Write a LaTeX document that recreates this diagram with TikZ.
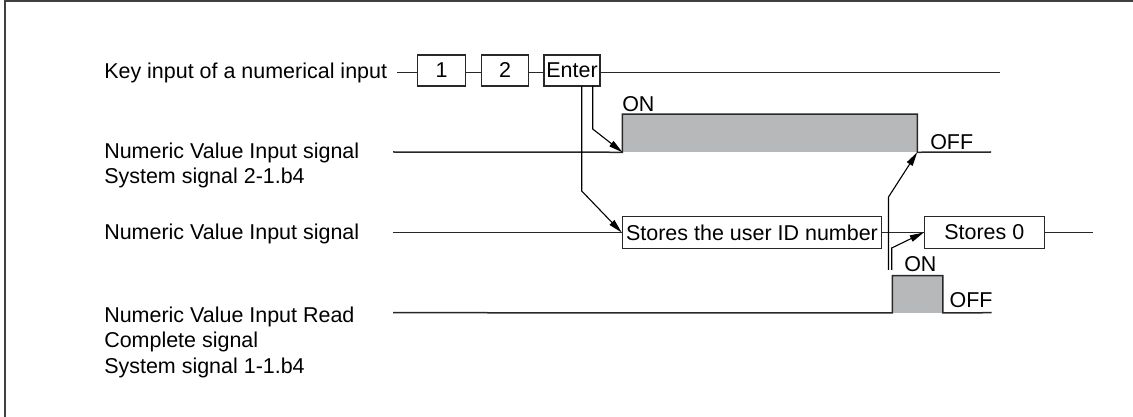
\documentclass[tikz,border=0pt]{standalone}
\usepackage{fontspec}
\setmainfont{Liberation Sans}
\usetikzlibrary{arrows.meta}
\newdimen\pxu \pxu=0.75pt
\definecolor{pulsegray}{RGB}{183,184,186}
\definecolor{linegray}{RGB}{40,40,40}
\tikzset{
  lbl/.style={anchor=base west, inner sep=0pt, font=\fontsize{16.1}{19}\selectfont},
  keybox/.style={draw=linegray, line width=1.2\pxu, inner sep=0pt, minimum height=31\pxu, font=\fontsize{16.1}{19}\selectfont},
  sig/.style={draw=linegray, line width=1.5\pxu},
  pulse/.style={fill=pulsegray, inner sep=0pt, draw=none},
  arr/.style={draw=black, line width=1.1\pxu, -{Triangle[length=10.5pt,width=5pt]}},
  frame/.style={draw=black!75, line width=2\pxu}
}
\begin{document}
\begin{tikzpicture}[x=0.75pt,y=-0.75pt]
\useasboundingbox (0,0) rectangle (1133,417);
% frame
\coordinate (fr1) at (1133,1);
\coordinate (fr2) at (5,1);
\coordinate (fr3) at (5,417);
\draw[frame] (fr1) -- (fr2) -- (fr3);

% labels
\node[lbl] (l1) at (104,79) {Key input of a numerical input};
\node[lbl] (l2a) at (104,159) {Numeric Value Input signal};
\node[lbl] (l2b) at (104,184) {System signal 2-1.b4};
\node[lbl] (l3) at (104,240) {Numeric Value Input signal};
\node[lbl] (l4a) at (104,322.5) {Numeric Value Input Read};
\node[lbl] (l4b) at (104,348) {Complete signal};
\node[lbl] (l4c) at (104,373.5) {System signal 1-1.b4};

% row 1 : key input
\node[keybox, minimum width=48.5\pxu] (k1) at (441.5,70.5) {1};
\node[keybox, minimum width=46.5\pxu] (k2) at (505,70.5) {2};
\node[keybox, minimum width=56\pxu] (ke) at (572,70.5) {Enter};
\coordinate (r1s) at (397,72.3);
\coordinate (r1e) at (1000,72.3);
\draw[sig] (r1s) -- (r1s -| k1.west);
\draw[sig] (k1.east |- r1s) -- (k2.west |- r1s);
\draw[sig] (k2.east |- r1s) -- (ke.west |- r1s);
\draw[sig] (ke.east |- r1s) -- (r1e);

% row 2 : numeric value input signal (bit)
\node[pulse, minimum width=294.3\pxu, minimum height=37.7\pxu] (p1) at (769.85,133.15) {};
\coordinate (r2s) at (393,152);
\coordinate (r2e) at (991,152);
\draw[sig] (r2s) -- (p1.south west) -- (p1.north west) -- (p1.north east) -- (p1.south east) -- (r2e);
\node[lbl] (on1) at (622,112) {ON};
\node[lbl] (off1) at (930,150) {OFF};

% row 3 : numeric value input
\node[keybox, minimum width=259.5\pxu, minimum height=31.6\pxu] (s1) at (752,232.5) {Stores the user ID number};
\node[keybox, minimum width=120\pxu, minimum height=31.6\pxu] (s0) at (984.3,232.5) {Stores 0};
\coordinate (r3s) at (393,232.7);
\coordinate (r3e) at (1093,232.7);
\draw[sig] (r3s) -- (r3s -| s1.west);
\draw[sig] (s1.east |- r3s) -- (s0.west |- r3s);
\draw[sig] (s0.east |- r3s) -- (r3e);

% row 4 : read complete signal
\node[pulse, minimum width=50\pxu, minimum height=36.7\pxu] (p2) at (917.7,294.35) {};
\coordinate (r4s) at (393,312.7);
\coordinate (r4e) at (991.7,312.7);
\draw[sig] (r4s) -- (p2.south west) -- (p2.north west) -- (p2.north east) -- (p2.south east) -- (r4e);
\node[lbl] (on2) at (904,271.7) {ON};
\node[lbl] (off2) at (949.3,307.3) {OFF};

% arrows
\coordinate (a1s) at (592.7,86);
\coordinate (a1b) at (592.7,129);
\draw[arr] (a1s) -- (a1b) -- (p1.south west);
\coordinate (a2s) at (581.7,86);
\coordinate (a2b) at (581.7,191);
\draw[arr] (a2s) -- (a2b) -- (s1.west);
\coordinate (a3s) at (888.5,270);
\coordinate (a3b) at (888.5,197);
\draw[arr] (a3s) -- (a3b) -- (p1.south east);
\coordinate (a4s) at (891.7,270);
\coordinate (a4b) at (891.7,248);
\draw[arr] (a4s) -- (a4b) -- (s0.west);
\end{tikzpicture}
\end{document}
